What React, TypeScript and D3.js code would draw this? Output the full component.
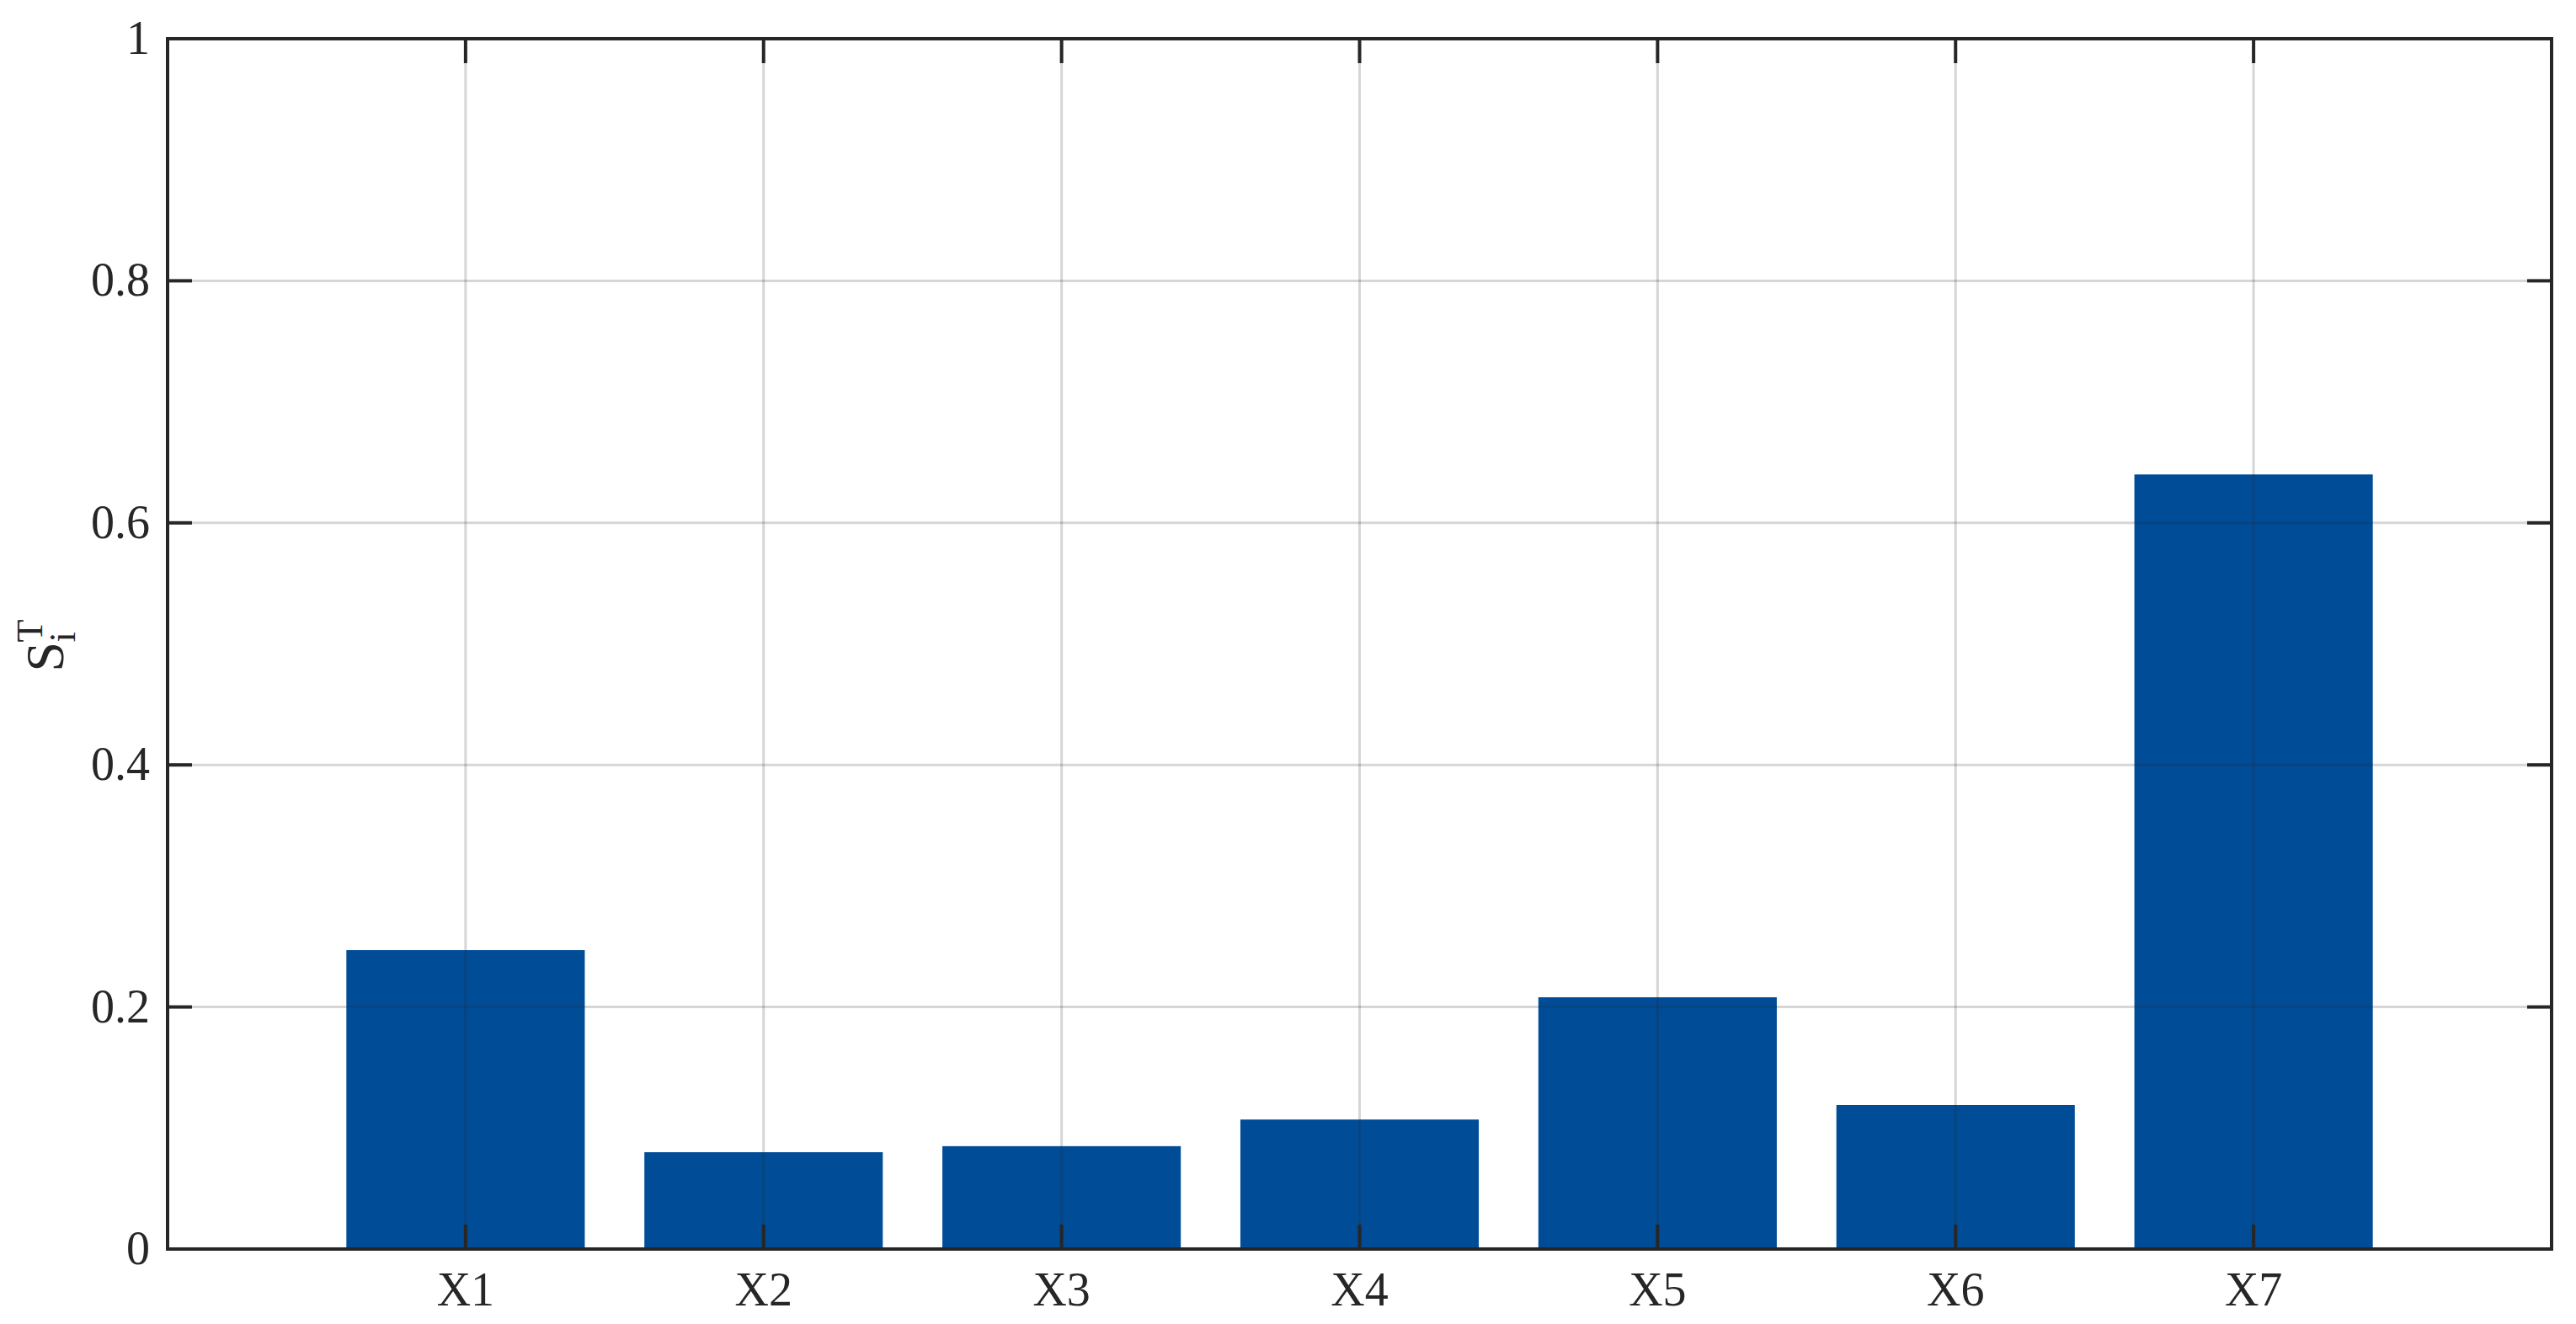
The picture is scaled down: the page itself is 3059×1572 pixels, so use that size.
import * as d3 from "d3";
import {useEffect, useRef} from "react";

// Total-order sensitivity index per input variable
const categories = ["X1", "X2", "X3", "X4", "X5", "X6", "X7"];
const values = [0.247, 0.080, 0.085, 0.107, 0.208, 0.119, 0.640];
const yTicks = [0, 0.2, 0.4, 0.6, 0.8, 1];
const yTickLabels = ["0", "0.2", "0.4", "0.6", "0.8", "1"];

export default function App() {
    const svgRef = useRef<SVGSVGElement | null>(null);

    useEffect(() => {
        if (!svgRef.current) return;
        d3.select(svgRef.current).selectAll("*").remove();

        const width = 3059;
        const height = 1572;
        const marginLeft = 199;
        const marginRight = 29;
        const marginTop = 46;
        const marginBottom = 89;
        const axisColor = "#262626";
        const font = "'Liberation Serif', 'Times New Roman', serif";
        const tickLen = 29;

        const x = d3.scaleBand()
            .domain(categories)
            .range([marginLeft, width - marginRight])
            .paddingInner(0.2)
            .paddingOuter(0.6);

        const y = d3.scaleLinear()
            .domain([0, 1])
            .range([height - marginBottom, marginTop]);

        const svg = d3.select(svgRef.current)
            .attr("width", width)
            .attr("height", height)
            .attr("viewBox", [0, 0, width, height].join(" "));

        svg.append("rect")
            .attr("width", width)
            .attr("height", height)
            .attr("fill", "#fff");

        // bars
        svg.append("g")
            .attr("fill", "#004c97")
            .selectAll("rect")
            .data(categories)
            .join("rect")
            .attr("x", d => x(d)!)
            .attr("y", (d, i) => y(values[i]))
            .attr("width", x.bandwidth())
            .attr("height", (d, i) => y(0) - y(values[i]));

        // grid (drawn over the bars, semi transparent like matlab)
        const grid = svg.append("g")
            .attr("stroke", "rgba(38,38,38,0.19)")
            .attr("stroke-width", 3);
        grid.selectAll("line.h")
            .data(yTicks.slice(1, -1))
            .join("line")
            .attr("class", "h")
            .attr("x1", marginLeft)
            .attr("x2", width - marginRight)
            .attr("y1", d => y(d))
            .attr("y2", d => y(d));
        grid.selectAll("line.v")
            .data(categories)
            .join("line")
            .attr("class", "v")
            .attr("x1", d => x(d)! + x.bandwidth() / 2)
            .attr("x2", d => x(d)! + x.bandwidth() / 2)
            .attr("y1", marginTop)
            .attr("y2", height - marginBottom);

        // inward ticks on all four sides
        const ticks = svg.append("g")
            .attr("stroke", axisColor)
            .attr("stroke-width", 4);
        ticks.selectAll("line.yl")
            .data(yTicks)
            .join("line")
            .attr("class", "yl")
            .attr("x1", marginLeft)
            .attr("x2", marginLeft + tickLen)
            .attr("y1", d => y(d))
            .attr("y2", d => y(d));
        ticks.selectAll("line.yr")
            .data(yTicks)
            .join("line")
            .attr("class", "yr")
            .attr("x1", width - marginRight)
            .attr("x2", width - marginRight - tickLen)
            .attr("y1", d => y(d))
            .attr("y2", d => y(d));
        ticks.selectAll("line.xb")
            .data(categories)
            .join("line")
            .attr("class", "xb")
            .attr("x1", d => x(d)! + x.bandwidth() / 2)
            .attr("x2", d => x(d)! + x.bandwidth() / 2)
            .attr("y1", y(0))
            .attr("y2", y(0) - tickLen);
        ticks.selectAll("line.xt")
            .data(categories)
            .join("line")
            .attr("class", "xt")
            .attr("x1", d => x(d)! + x.bandwidth() / 2)
            .attr("x2", d => x(d)! + x.bandwidth() / 2)
            .attr("y1", y(1))
            .attr("y2", y(1) + tickLen);

        // box
        svg.append("rect")
            .attr("x", marginLeft)
            .attr("y", marginTop)
            .attr("width", width - marginLeft - marginRight)
            .attr("height", height - marginTop - marginBottom)
            .attr("fill", "none")
            .attr("stroke", axisColor)
            .attr("stroke-width", 4);

        // tick labels
        svg.append("g")
            .attr("font-family", font)
            .attr("font-size", 56)
            .attr("fill", axisColor)
            .attr("text-anchor", "end")
            .selectAll("text")
            .data(yTicks)
            .join("text")
            .attr("x", marginLeft - 21)
            .attr("y", d => y(d) + 18)
            .text((d, i) => yTickLabels[i]);

        svg.append("g")
            .attr("font-family", font)
            .attr("font-size", 56)
            .attr("fill", axisColor)
            .attr("text-anchor", "middle")
            .selectAll("text")
            .data(categories)
            .join("text")
            .attr("x", d => x(d)! + x.bandwidth() / 2)
            .attr("y", y(0) + 67)
            .text(d => d);

        // y label: S_i^T
        const yl = svg.append("g")
            .attr("transform", `translate(75,${(marginTop + height - marginBottom) / 2}) rotate(-90)`)
            .attr("font-family", font)
            .attr("fill", axisColor);
        yl.append("text")
            .attr("x", -33)
            .attr("y", 0)
            .attr("font-size", 64)
            .text("S");
        yl.append("text")
            .attr("x", 2)
            .attr("y", 14)
            .attr("font-size", 44)
            .text("i");
        yl.append("text")
            .attr("x", 2)
            .attr("y", -25)
            .attr("font-size", 44)
            .text("T");
    }, []);

    return <svg ref={svgRef} style={{position: "absolute", left: 0, top: 0, display: "block"}}></svg>;
}
